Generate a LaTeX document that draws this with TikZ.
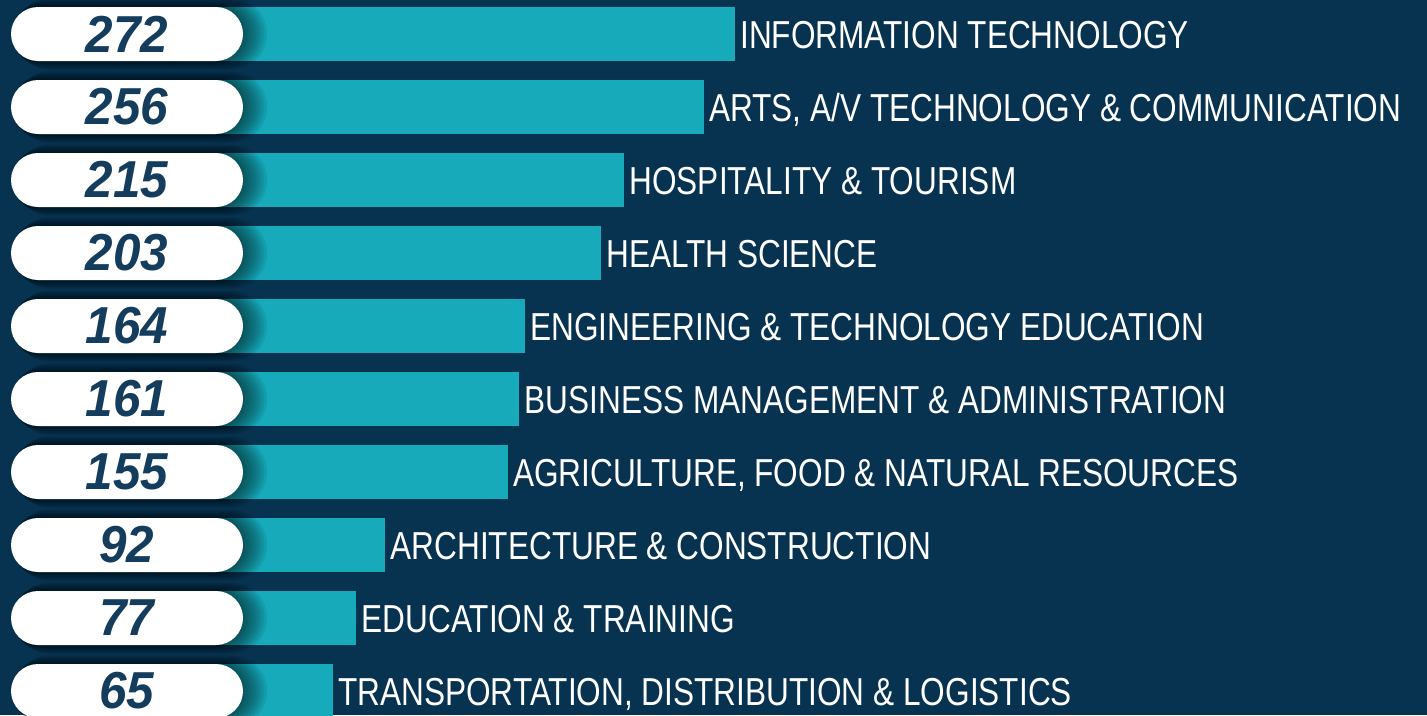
\documentclass[tikz,border=0pt]{standalone}
\usepackage{fontspec}
\setmainfont{Liberation Sans}
\newfontfamily\catfont[FakeStretch=0.81]{Liberation Sans}
\newfontfamily\numfont[FakeStretch=0.95]{Liberation Sans}
\usetikzlibrary{shapes.misc}
\definecolor{navybg}{RGB}{7,51,81}
\definecolor{barteal}{RGB}{22,170,187}
\definecolor{numblue}{RGB}{20,60,92}

\begin{document}
\begin{tikzpicture}[x=1pt,y=-1pt,
    pill/.style={shape=rounded rectangle,fill=white,minimum width=232pt,minimum height=54pt,
      inner sep=0pt,text=numblue,font=\numfont\bfseries\itshape\fontsize{52}{52}\selectfont},
    catlabel/.style={anchor=base west,inner sep=0pt,text=white,font=\catfont\fontsize{39}{39}\selectfont}]
    \fill[navybg] (0,0) rectangle (1427,715) ;
    \clip (0,0) rectangle (1427,715) ;

    \foreach \v/\txt [count=\i from 0] in {
        272/{INFORMATION TECHNOLOGY},
        256/{ARTS, A/V TECHNOLOGY \& COMMUNICATION},
        215/{HOSPITALITY \& TOURISM},
        203/{HEALTH SCIENCE},
        164/{ENGINEERING \& TECHNOLOGY EDUCATION},
        161/{BUSINESS MANAGEMENT \& ADMINISTRATION},
        155/{AGRICULTURE, FOOD \& NATURAL RESOURCES},
        92/{ARCHITECTURE \& CONSTRUCTION},
        77/{EDUCATION \& TRAINING},
        65/{TRANSPORTATION, DISTRIBUTION \& LOGISTICS}} {
      \pgfmathsetmacro\ytop{7+73*\i}
      \pgfmathsetmacro\xend{206.8+1.942*\v}
      \fill[barteal] (200,\ytop) rectangle (\xend,\ytop+54) ;
      % soft shadow of the pill
      \foreach \k in {1,...,9} {
        \pgfmathsetmacro\rr{27+\k}
        \fill[black,opacity=0.07,rounded corners=\rr pt]
          (10+0.5*\k,\ytop-\k) rectangle (242+2.8*\k,\ytop+54+\k) ;
      }
      \node[pill] (num\i) at (127,\ytop+27) {\v} ;
      \node[catlabel] (cat\i) at (\xend+5,\ytop+41) {\txt} ;
    }
\end{tikzpicture}
\end{document}
